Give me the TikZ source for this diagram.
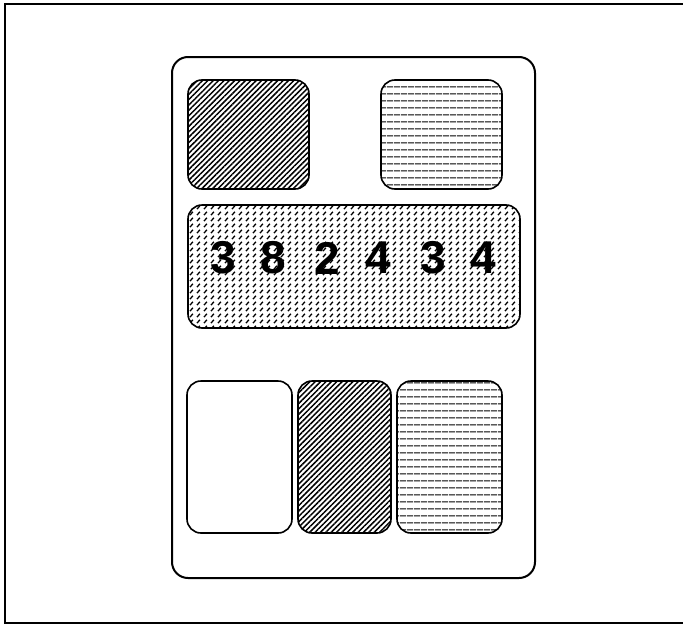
\documentclass[tikz,border=0pt]{standalone}
\usepackage{fontspec}
\setmainfont{Liberation Sans}
\usetikzlibrary{patterns,patterns.meta}
\pgfdeclarepatternformonly{shortdash}{\pgfpointorigin}{\pgfqpoint{7pt}{5.5pt}}{\pgfqpoint{7pt}{5.5pt}}{
\pgfsetlinewidth{1.4pt}
\pgfpathmoveto{\pgfqpoint{1pt}{1pt}}
\pgfpathlineto{\pgfqpoint{4.5pt}{4.5pt}}
\pgfusepath{stroke}}
\tikzset{
  panel/.style={line width=1.6pt, rounded corners=14pt},
  slant/.style={pattern={Lines[angle=45,distance=3.8pt,line width=1.5pt]}},
  flat/.style={pattern={Lines[angle=0,distance=6.5pt,line width=1.1pt]}},
  digit/.style={font=\fontsize{46}{46}\selectfont\bfseries}
}
\begin{document}
\begin{tikzpicture}[x=1pt,y=-1pt]
\useasboundingbox (0,0) rectangle (683,627);
\draw[line width=1.3pt] (683,4) -- (5,4) -- (5,623) -- (683,623);
\draw[line width=2pt, rounded corners=16pt] (172,57) rectangle (535,578);
\draw[panel, slant] (188,80) rectangle (309,189);
\draw[panel, flat] (381,80) rectangle (502,189);
\draw[panel, pattern=shortdash] (188,205) rectangle (520,328);
\draw[panel] (187,381) rectangle (292,533);
\draw[panel, slant] (298,381) rectangle (391,533);
\draw[panel, flat] (397,381) rectangle (502,533);
\node[digit] (d1) at (223,258) {3};
\node[digit] (d2) at (273,258) {8};
\node[digit] (d3) at (327,258) {2};
\node[digit] (d4) at (378,258) {4};
\node[digit] (d5) at (433,258) {3};
\node[digit] (d6) at (483,258) {4};
\end{tikzpicture}
\end{document}
